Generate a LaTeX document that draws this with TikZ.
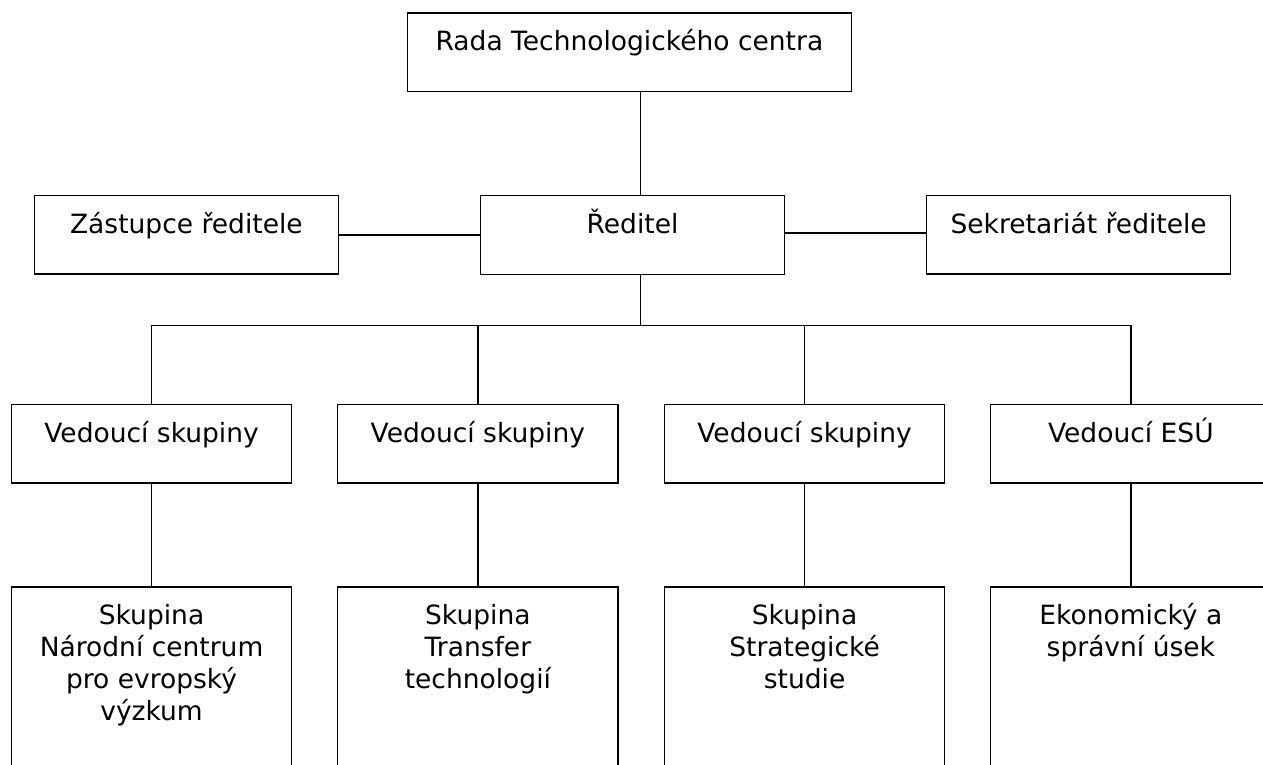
\documentclass[tikz,border=0pt]{standalone}
\usepackage{fontspec}
\setmainfont{DejaVu Sans}
\newcommand{\bxt}[3]{\parbox[c][#2][t]{#1}{\centering\rule{0pt}{37.7pt}#3}}
\tikzset{
  bx/.style={draw=black, line width=1.4pt, inner sep=0pt, anchor=north west},
  conn/.style={draw=black, line width=1.4pt}
}
\begin{document}
\begin{tikzpicture}[x=1pt, y=-1pt, font=\fontsize{26.5}{32}\selectfont]
\path[use as bounding box] (0,0) rectangle (1263,764);
\clip (0,0) rectangle (1263,764);
\fill[white] (0,0) rectangle (1263,764);
% top levels
\node[bx] (rada) at (406.7,12.3) {\bxt{444pt}{78.4pt}{Rada Technologického centra}};
\node[bx] (red) at (480,195) {\bxt{303.7pt}{78.5pt}{Ředitel}};
\node[bx] (zas) at (33.7,195) {\bxt{304pt}{78.3pt}{Zástupce ředitele}};
\node[bx] (sek) at (926,195) {\bxt{304pt}{78.3pt}{Sekretariát ředitele}};
% group leaders
\node[bx] (v1) at (10.7,404) {\bxt{280.3pt}{78.3pt}{Vedoucí skupiny}};
\node[bx] (v2) at (337,404) {\bxt{280.3pt}{78.3pt}{Vedoucí skupiny}};
\node[bx] (v3) at (663.7,404) {\bxt{280.3pt}{78.3pt}{Vedoucí skupiny}};
\node[bx] (v4) at (990,404) {\bxt{280.3pt}{78.3pt}{Vedoucí ESÚ}};
% groups
\node[bx] (b1) at (10.7,586.3) {\bxt{280.3pt}{200pt}{Skupina\\Národní centrum\\pro evropský\\výzkum}};
\node[bx] (b2) at (337,586.3) {\bxt{280.3pt}{200pt}{Skupina\\Transfer\\technologií}};
\node[bx] (b3) at (663.7,586.3) {\bxt{280.3pt}{200pt}{Skupina\\Strategické\\studie}};
\node[bx] (b4) at (990,586.3) {\bxt{280.3pt}{200pt}{Ekonomický a\\správní úsek}};
% helper coordinates
\coordinate (spine) at (640.7,0);
\coordinate (lyl) at (0,235);
\coordinate (ryl) at (0,233);
\coordinate (bus) at (0,325.7);
% connectors
\draw[conn] (rada.south -| spine) -- (red.north -| spine);
\draw[conn] (zas.east |- lyl) -- (red.west |- lyl);
\draw[conn] (red.east |- ryl) -- (sek.west |- ryl);
\draw[conn] (red.south -| spine) -- (bus -| spine);
\draw[conn] (v1.north) -- (v1.north |- bus) -- (v4.north |- bus) -- (v4.north);
\draw[conn] (v2.north) -- (v2.north |- bus);
\draw[conn] (v3.north) -- (v3.north |- bus);
\draw[conn] (v1.south) -- (b1.north);
\draw[conn] (v2.south) -- (b2.north);
\draw[conn] (v3.south) -- (b3.north);
\draw[conn] (v4.south) -- (b4.north);
\end{tikzpicture}
\end{document}
